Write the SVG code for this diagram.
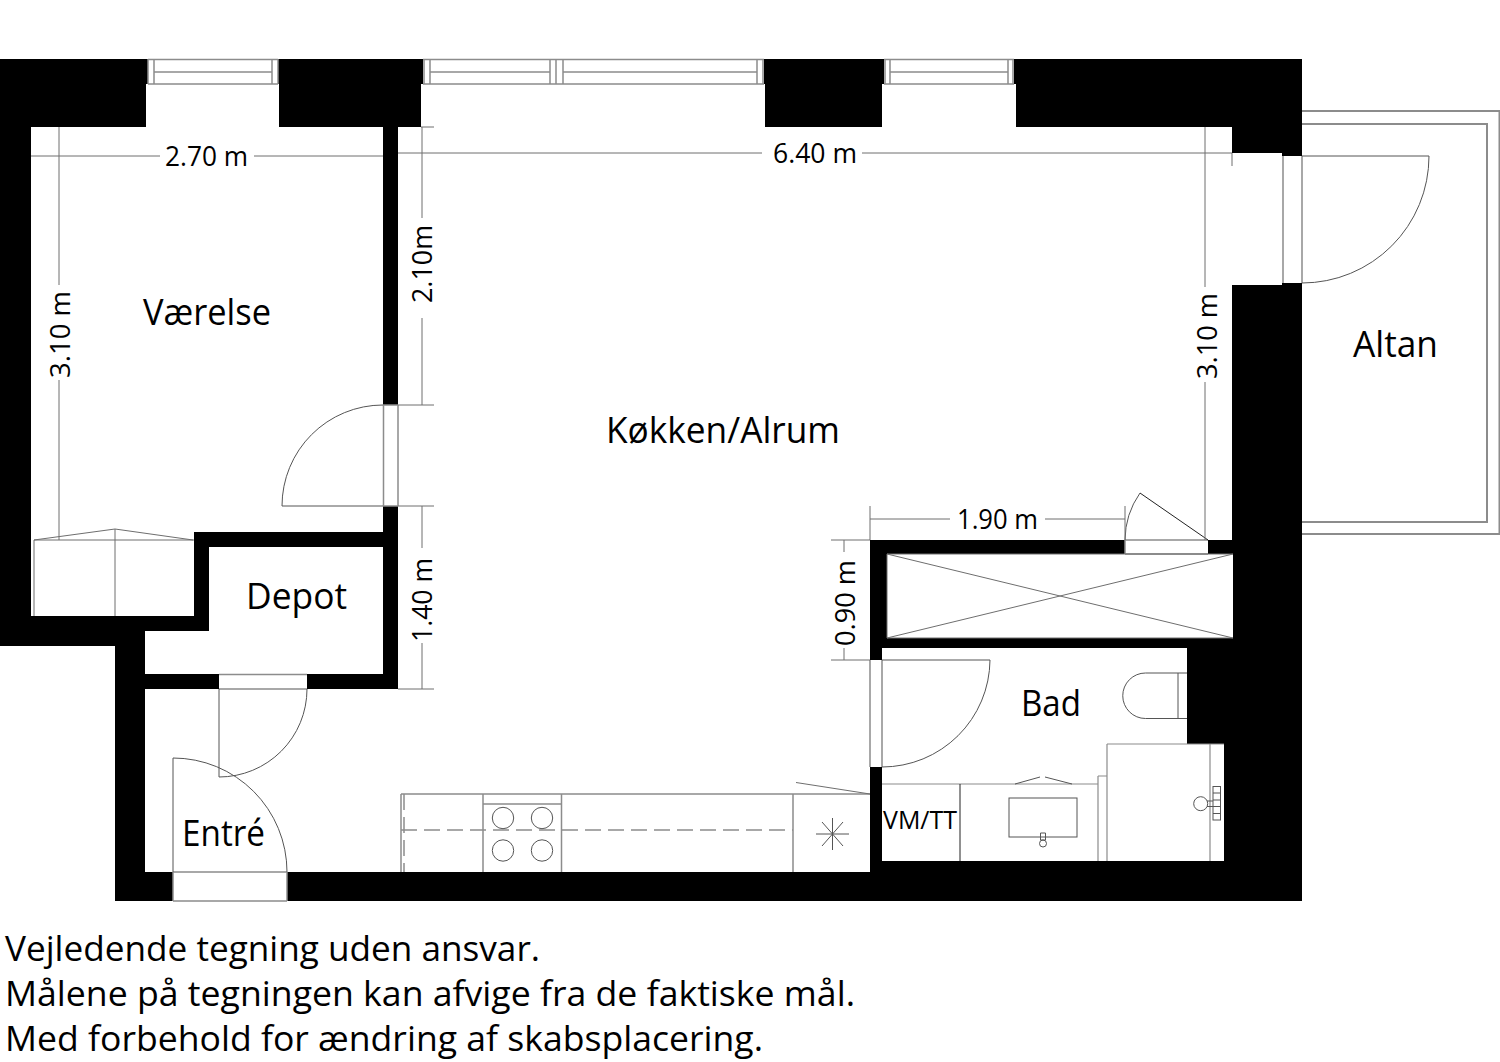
<svg xmlns="http://www.w3.org/2000/svg" width="1500" height="1062" viewBox="0 0 1500 1062">
<style>
.wall{fill:#000}
.room{fill:#fff}
.g{fill:none;stroke:#8c8c8c;stroke-width:1.5}
.b{fill:none;stroke:#8c8c8c;stroke-width:2}
.f{fill:none;stroke:#8c8c8c;stroke-width:1.2}
.t{fill:none;stroke:#6e6e6e;stroke-width:1}
.d{fill:none;stroke:#555;stroke-width:1}
.k{fill:none;stroke:#222;stroke-width:1}
text{font-family:"Open Sans","Noto Sans","Liberation Sans",sans-serif;fill:#000}
.lab{font-size:36px}
.dim{font-size:28px}
.note{font-size:35px}
</style>
<rect width="1500" height="1062" fill="#fff"/>
<g id="walls">
<path class="wall" d="M0 59H1302V901H115V646H0Z"/>
<path class="room" d="M31 127H146V84H148V59H278V84H279V127H383V405H398V506H383V532H194V616H31Z"/>
<path class="room" d="M398 405V127H421V84H423V59H764V84H765V127H882V84H884V59H1014V84H1016V127H1232V153H1282V156H1302V283H1282V285H1232V540H1208V554H1125V540H870V660H882V767H870V872H287V901H173V872H145V689H219V674H307V689H398V506Z"/>
<path class="room" d="M209 547H383V674H145V631H209Z"/>
<path class="room" d="M882 648H1187V744H1224V861H882Z"/>
<rect class="room" x="887" y="554" width="346" height="84"/>
</g>
<g id="windows">
<path class="g" d="M148 59.500H278M148 84H278M154 59V84M272 59V84M154 72H272M148 59V84M278 59V84"/>
<path class="g" d="M423 59.500H764M423 84H764M424 59V84M430 59V84M550 59V84M556 59V84M563 59V84M757 59V84M763 59V84M430 72H550M563 72H757"/>
<path class="g" d="M884 59.500H1014M884 84H1014M885 59V84M890 59V84M1008 59V84M1013 59V84M890 72H1008"/>
</g>
<g id="balcony">
<path class="b" d="M1302 111H1499.500V534H1302M1302 124H1487V522H1302"/>
</g>
<g id="doors">
<path class="g" d="M1283 156V283M1302 156V283"/>
<path class="d" d="M1302 156H1429A127 127 0 0 1 1302 283"/>
<path class="g" d="M383.500 405V506M398 405V506M398 405H383M398 506H383"/>
<path class="d" d="M383 506H282A101 101 0 0 1 383 405"/>
<path class="g" d="M219 674.500H307M219 689H307"/>
<path class="d" d="M307 689A88 88 0 0 1 219 777V689"/>
<path class="g" d="M173 872H287M173 901H287M173 872V901M287 872V901"/>
<path class="d" d="M287 872A114 114 0 0 0 173 758V872"/>
<path class="g" d="M870 660V767M882 660V767"/>
<path class="d" d="M882 660H990A108 108 0 0 1 882 767"/>
<path class="g" d="M1125 540H1208M1125 554H1208M1125 540V554"/>
<path class="d" d="M1125 540A83 83 0 0 1 1140 493"/>
<path class="k" d="M1140 493L1208 540"/>
</g>
<g id="dimensions">
<path class="t" d="M31 156H160M254 156H383M59 127V285M59 380V540"/>
<path class="t" d="M398 153H762M862 153H1232M1232 153V166M421 127H434M422 127V218M422 318V405M398 405H434M398 506H434M422 506V548M422 643V689M398 689H434"/>
<path class="t" d="M1205 127V287M1205 382V540"/>
<path class="t" d="M870 506V540M1125 506V540M870 519H950M1045 519H1125"/>
<path class="t" d="M831 540H870M831 660H870M844 540V552M844 648V660"/>
</g>
<g id="fixtures">
<path class="t" d="M34 616V540H194M34 540L115 529L193 540M115 529V616"/>
<path class="t" d="M887 554V638H1233M887 554H1233M887 554L1233 638M887 638L1233 554"/>
<path class="g" d="M401 794H870M401 794V872M793 794V872M483 794V872M561.500 794V872M483 804H561.500"/>
<path class="g" d="M404 794V872M401 830H793" stroke-dasharray="16 7"/>
<path class="t" d="M796 782.500L870 794"/>
<circle class="d" cx="503" cy="818" r="10.700"/><circle class="d" cx="542" cy="818" r="10.700"/>
<circle class="d" cx="503" cy="850.500" r="10.700"/><circle class="d" cx="542" cy="850.500" r="10.700"/>
<path class="d" d="M816 834H849M832.500 818V850M822 822L843 846M843 822L822 846"/>
<path class="d" d="M1187 673H1145.500A22.750 22.750 0 0 0 1145.500 718.500H1187M1178 673V718.500"/>
<path class="f" d="M882 784H1098M1098 784V861M1098 776H1107M1098 776V784M1107 744V861M1107 744H1187M1187 744H1224M1210 744V861"/>
<path class="k" d="M960 784V861"/>
<path class="d" d="M1015 784L1040 777M1045 777L1072 784"/>
<rect class="d" x="1009" y="798" width="68" height="39"/>
<path class="d" d="M1040.500 833H1045.500V840H1040.500Z"/>
<circle class="d" cx="1043" cy="843.500" r="3.500"/>
<circle class="d" cx="1200.700" cy="803.700" r="7"/>
<path class="d" d="M1207 801H1213M1207 806.500H1213"/>
<rect class="d" x="1213" y="786.500" width="7.500" height="33.500"/>
<path class="d" d="M1213 793H1220.500M1213 800H1220.500M1213 806.500H1220.500M1213 813.500H1220.500"/>
</g>
<g id="labels">
<text class="lab" x="143" y="325" textLength="128" lengthAdjust="spacingAndGlyphs">Værelse</text>
<text class="lab" x="606" y="443" textLength="234" lengthAdjust="spacingAndGlyphs">Køkken/Alrum</text>
<text class="lab" x="1353" y="357" textLength="85" lengthAdjust="spacingAndGlyphs">Altan</text>
<text class="lab" x="246" y="609" textLength="101" lengthAdjust="spacingAndGlyphs">Depot</text>
<text class="lab" x="182" y="846" textLength="83" lengthAdjust="spacingAndGlyphs">Entré</text>
<text class="lab" x="1021" y="716" textLength="60" lengthAdjust="spacingAndGlyphs">Bad</text>
<text x="883" y="829" font-size="26" textLength="74" lengthAdjust="spacingAndGlyphs">VM/TT</text>
<text class="dim" x="165" y="166" textLength="83" lengthAdjust="spacingAndGlyphs">2.70 m</text>
<text class="dim" x="773" y="163" textLength="84" lengthAdjust="spacingAndGlyphs">6.40 m</text>
<text class="dim" x="957" y="529" textLength="81" lengthAdjust="spacingAndGlyphs">1.90 m</text>
<text class="dim" transform="translate(70 378) rotate(-90)" textLength="87" lengthAdjust="spacingAndGlyphs">3.10 m</text>
<text class="dim" transform="translate(432 303) rotate(-90)" textLength="78" lengthAdjust="spacingAndGlyphs">2.10m</text>
<text class="dim" transform="translate(432 642) rotate(-90)" textLength="84" lengthAdjust="spacingAndGlyphs">1.40 m</text>
<text class="dim" transform="translate(1217 379) rotate(-90)" textLength="86" lengthAdjust="spacingAndGlyphs">3.10 m</text>
<text class="dim" transform="translate(855 646) rotate(-90)" textLength="86" lengthAdjust="spacingAndGlyphs">0.90 m</text>
<text class="note" x="5" y="961" textLength="535" lengthAdjust="spacingAndGlyphs">Vejledende tegning uden ansvar.</text>
<text class="note" x="5" y="1006" textLength="850" lengthAdjust="spacingAndGlyphs">Målene på tegningen kan afvige fra de faktiske mål.</text>
<text class="note" x="5" y="1051" textLength="758" lengthAdjust="spacingAndGlyphs">Med forbehold for ændring af skabsplacering.</text>
</g>
</svg>
